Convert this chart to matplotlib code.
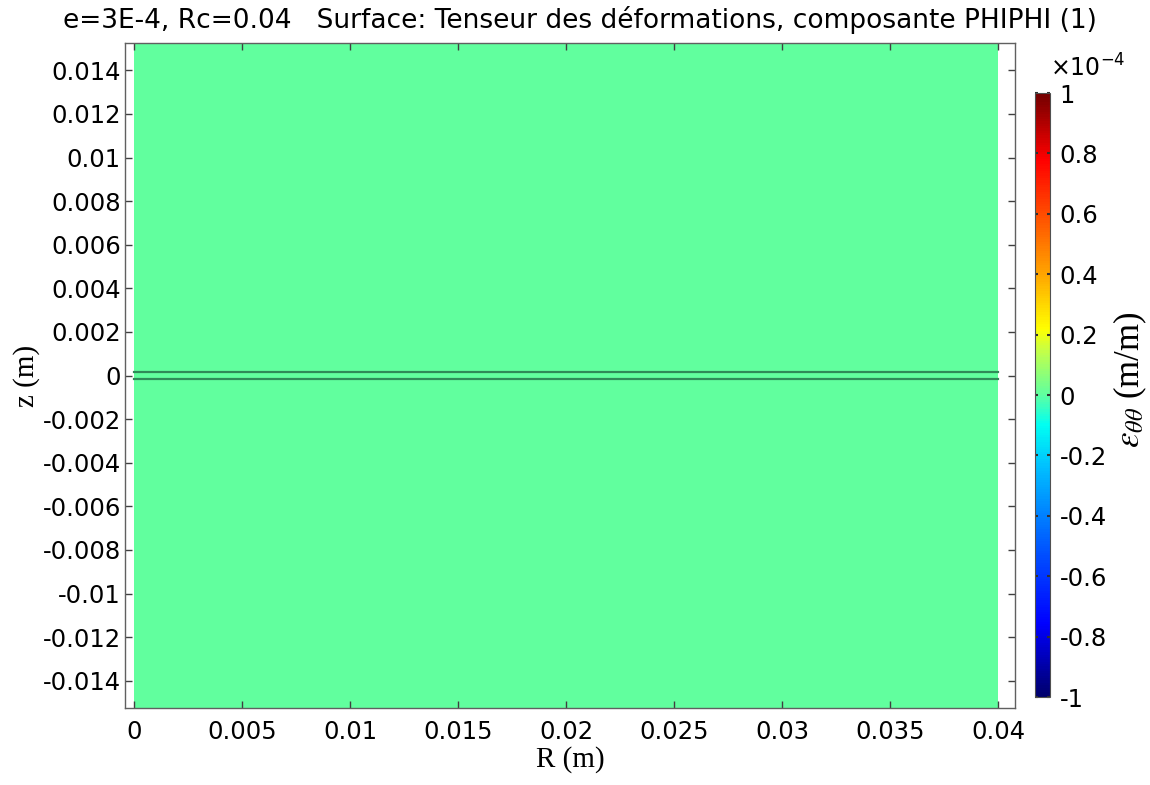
import matplotlib
matplotlib.use("Agg")
import matplotlib.pyplot as plt
import numpy as np
from matplotlib.colors import LinearSegmentedColormap, Normalize
from matplotlib.ticker import FuncFormatter

# geometry (m) and strain field on the surface
R_edges = [0.0, 0.04]
z_edges = [-0.01525, 0.01525]
eps_phiphi = [[0.0]]
e_layer = 3e-4
interfaces = [e_layer / 2, -e_layer / 2]

x_ticks = [0, 0.005, 0.01, 0.015, 0.02, 0.025, 0.03, 0.035, 0.04]
y_ticks = [-0.014, -0.012, -0.01, -0.008, -0.006, -0.004, -0.002, 0,
           0.002, 0.004, 0.006, 0.008, 0.01, 0.012, 0.014]
cb_ticks = [-1, -0.8, -0.6, -0.4, -0.2, 0, 0.2, 0.4, 0.6, 0.8, 1]
cb_scale = 1e-4

rainbow = LinearSegmentedColormap.from_list("rainbow_fe", [
    (0.00, (0.00, 0.00, 0.42)),
    (0.12, (0.00, 0.00, 1.00)),
    (0.25, (0.00, 0.35, 1.00)),
    (0.38, (0.00, 0.75, 1.00)),
    (0.45, (0.00, 1.00, 0.95)),
    (0.50, (0.37, 1.00, 0.63)),
    (0.57, (0.75, 1.00, 0.30)),
    (0.61, (1.00, 1.00, 0.00)),
    (0.70, (1.00, 0.65, 0.00)),
    (0.80, (1.00, 0.30, 0.00)),
    (0.89, (1.00, 0.00, 0.00)),
    (1.00, (0.45, 0.00, 0.00)),
])

fig = plt.figure(figsize=(11.5, 7.85), dpi=100)
ax = fig.add_axes([0.1087, 0.0981, 0.774, 0.847])
cax = fig.add_axes([0.900, 0.1121, 0.013, 0.7694])

norm = Normalize(vmin=-cb_scale, vmax=cb_scale)
mesh = ax.pcolormesh(R_edges, z_edges, np.array(eps_phiphi), cmap=rainbow, norm=norm)
# layer interfaces across the domain
for z in interfaces:
    ax.plot(R_edges, [z, z], color="#2f8a58", lw=1.6)

ax.set_xlim(-0.00042, 0.04079)
ax.set_ylim(z_edges)
ax.set_xticks(x_ticks)
ax.set_yticks(y_ticks)
ax.xaxis.set_major_formatter(FuncFormatter(lambda v, p: f"{v:g}"))
ax.yaxis.set_major_formatter(FuncFormatter(lambda v, p: f"{v:g}"))
ax.tick_params(direction="in", top=True, right=True, length=5, width=1,
               color="#404040", labelsize=17.5, pad=3)
ax.tick_params(axis="x", pad=9)
for s in ax.spines.values():
    s.set_color("#606060")
    s.set_linewidth(1)

ax.set_xlabel("R (m)", family="Liberation Serif", fontsize=21, labelpad=1)
ax.set_ylabel("z (m)", family="Liberation Serif", fontsize=21, labelpad=2)

cb = fig.colorbar(mesh, cax=cax, ticks=[t * cb_scale for t in cb_ticks])
cb.ax.yaxis.set_major_formatter(FuncFormatter(lambda v, p: f"{v / cb_scale:g}"))
cb.ax.tick_params(direction="in", length=2, width=1.5, color="#303030",
                  labelsize=17.5, pad=7, left=True)
cb.outline.set_edgecolor("#505050")
cb.outline.set_linewidth(0.8)

fig.text(1050 / 1150, 1 - 68 / 785, r"$\times$10$^{-4}$", fontsize=17, va="center", ha="left")
fig.text(1130 / 1150, 1 - 380 / 785, r"$\varepsilon_{\theta\theta}$ (m/m)",
         family="Liberation Serif", fontsize=25, rotation=90, va="center", ha="center",
         math_fontfamily="stix")

fig.text(580 / 1150, 1 - 20 / 785,
         "e=3E-4, Rc=0.04   Surface: Tenseur des déformations, composante PHIPHI (1)",
         fontsize=19, ha="center", va="center")

fig.savefig("out.png", dpi=100, facecolor="white")
